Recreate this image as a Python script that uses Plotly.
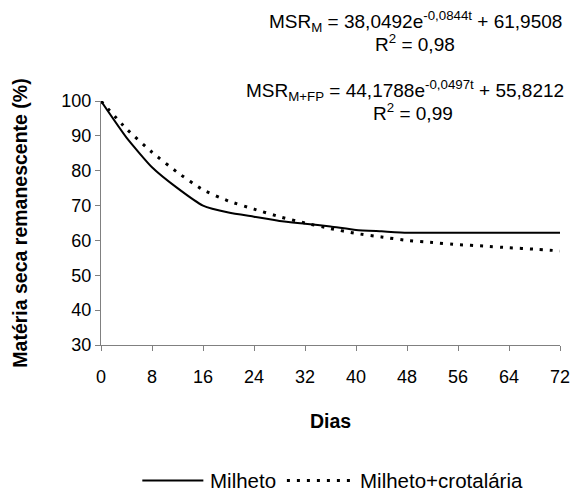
import plotly.graph_objects as go

dias = [0, 4, 8, 12, 16, 20, 24, 28, 32, 36, 40, 44, 48, 52, 56, 60, 64, 68, 72]
milheto = [100, 89.5, 81, 75, 70, 68, 66.8, 65.6, 64.8, 64, 63, 62.6, 62.2, 62.2, 62.2, 62.2, 62.2, 62.2, 62.2]
milheto_crot = [100, 92, 85.3, 79.5, 74.5, 71.3, 69, 66.8, 65, 63.4, 62, 61, 60, 59.4, 58.8, 58.4, 57.9, 57.5, 57]
x_ticks = [0, 8, 16, 24, 32, 40, 48, 56, 64, 72]
y_ticks = [30, 40, 50, 60, 70, 80, 90, 100]
serie_nomes = ["Milheto", "Milheto+crotalária"]

FONT = "Liberation Sans, Arial, sans-serif"
AX = "#808080"
DOT = "3px,7px"

fig = go.Figure()
fig.add_trace(go.Scatter(x=dias, y=milheto, mode="lines", name=serie_nomes[0],
                         line=dict(color="black", width=2, shape="spline", smoothing=0.5),
                         showlegend=False))
fig.add_trace(go.Scatter(x=dias, y=milheto_crot, mode="lines", name=serie_nomes[1],
                         line=dict(color="black", width=3, dash=DOT, shape="spline", smoothing=0.5),
                         showlegend=False))

fig.update_layout(
    width=582, height=494,
    margin=dict(l=101, r=14, t=101, b=149),
    paper_bgcolor="white", plot_bgcolor="white",
    font=dict(family=FONT, color="black", size=18),
    xaxis=dict(range=[0, 72], tickvals=x_ticks, ticks="outside", ticklen=5, tickcolor=AX,
               showline=True, linecolor=AX, linewidth=1, showgrid=False, zeroline=False,
               tickfont=dict(size=18), ticklabelstandoff=10,
               title=dict(text="<b>Dias</b>", font=dict(size=19.5), standoff=28)),
    yaxis=dict(range=[30, 100], tickvals=y_ticks, ticks="outside", ticklen=5, tickcolor=AX,
               showline=True, linecolor=AX, linewidth=1, showgrid=False, zeroline=False,
               tickfont=dict(size=18),
               title=dict(text="<b>Matéria seca remanescente (%)</b>", font=dict(size=19.5), standoff=28)),
)

ann = [
    dict(text="MSR<sub>M</sub> = 38,0492e<sup>-0,0844t</sup> + 61,9508", x=0.686, y=1.324),
    dict(text="R<sup>2</sup> = 0,98", x=0.685, y=1.238),
    dict(text="MSR<sub>M+FP</sub> = 44,1788e<sup>-0,0497t</sup> + 55,8212", x=0.663, y=1.041),
    dict(text="R<sup>2</sup> = 0,99", x=0.68, y=0.955),
]
for a in ann:
    fig.add_annotation(xref="paper", yref="paper", showarrow=False, xanchor="center",
                       yanchor="middle", font=dict(size=19, family=FONT), **a)

# custom legend
ly = -0.555
fig.add_shape(type="line", xref="paper", yref="paper", x0=0.09, x1=0.223, y0=ly, y1=ly,
              line=dict(color="black", width=2))
fig.add_annotation(xref="paper", yref="paper", x=0.233, y=ly, text=serie_nomes[0], showarrow=False,
                   xanchor="left", yanchor="middle", font=dict(size=20.5, family=FONT))
fig.add_shape(type="line", xref="paper", yref="paper", x0=0.405, x1=0.544, y0=ly, y1=ly,
              line=dict(color="black", width=3, dash=DOT))
fig.add_annotation(xref="paper", yref="paper", x=0.559, y=ly, text=serie_nomes[1], showarrow=False,
                   xanchor="left", yanchor="middle", font=dict(size=20.5, family=FONT))

fig.write_html("out.html")
